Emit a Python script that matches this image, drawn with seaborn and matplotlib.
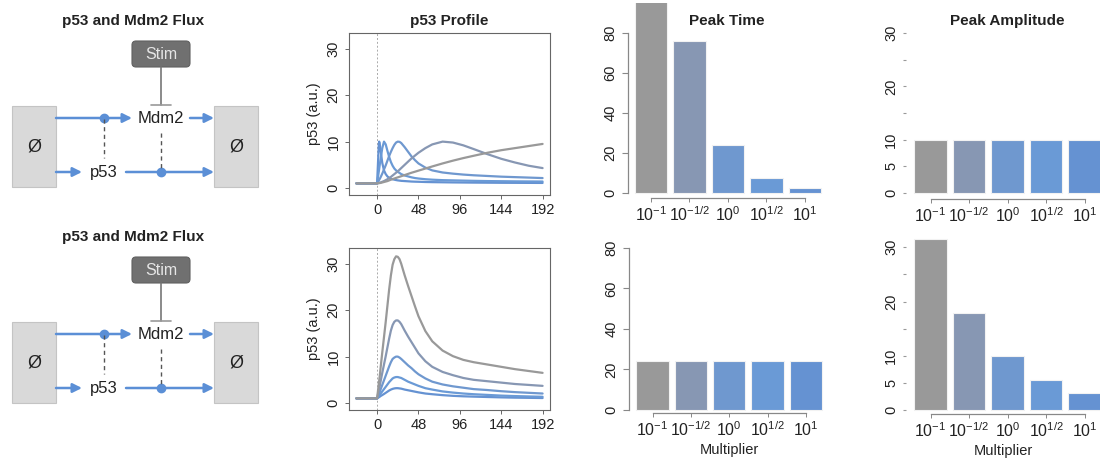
import numpy as np
import pandas as pd
import matplotlib
matplotlib.use("Agg")
import matplotlib.pyplot as plt
import seaborn as sns
from matplotlib.patches import FancyBboxPatch, Rectangle, FancyArrowPatch

sns.set_style("ticks")
plt.rcParams['font.family'] = ['Liberation Sans', 'DejaVu Sans']
plt.rcParams['mathtext.fontset'] = 'custom'
plt.rcParams['mathtext.rm'] = 'Liberation Sans'

# ---------------- data ----------------
multipliers = ["0.1", "0.316", "1", "3.16", "10"]
mult_labels = [r"$\mathregular{10^{-1}}$", r"$\mathregular{10^{-1/2}}$", r"$\mathregular{10^{0}}$",
               r"$\mathregular{10^{1/2}}$", r"$\mathregular{10^{1}}$"]
colors = ["#999999", "#8797b3", "#6f98cf", "#6a9ad6", "#6592d2"]

time_h = [-24, 0, 1, 2, 2.4, 3, 4, 6, 8, 10, 12, 14, 16, 18, 20, 22, 24, 26, 28, 32, 36, 40, 44,
          48, 56, 64, 76, 88, 100, 112, 128, 144, 160, 176, 192]

# top row: Mdm2 flux scaled -> peak time changes, amplitude constant
top_m1 = [1, 1, 1.02, 1.05, 1.06, 1.08, 1.1, 1.2, 1.3, 1.4, 1.5, 1.65, 1.8, 1.92, 2.05, 2.18, 2.3,
          2.42, 2.55, 2.8, 3.05, 3.3, 3.52, 3.75, 4.2, 4.65, 5.3, 5.9, 6.45, 6.95, 7.6, 8.15, 8.6,
          9.05, 9.5]
top_m2 = [1, 1, 1.05, 1.1, 1.12, 1.15, 1.2, 1.35, 1.5, 1.7, 1.9, 2.15, 2.4, 2.7, 3.0, 3.3, 3.6,
          3.95, 4.3, 5.0, 5.7, 6.4, 7.0, 7.6, 8.6, 9.4, 10.0, 9.8, 9.2, 8.4, 7.3, 6.3, 5.5, 4.8, 4.3]
top_m3 = [1, 1, 1.3, 1.6, 1.75, 1.95, 2.3, 3.1, 4.0, 4.9, 5.9, 6.9, 7.8, 8.6, 9.3, 9.8, 10.0,
          9.95, 9.7, 8.8, 7.8, 6.8, 6.0, 5.3, 4.4, 3.8, 3.35, 3.1, 2.9, 2.75, 2.6, 2.45, 2.35,
          2.25, 2.15]
top_m4 = [1, 1, 2.3, 3.6, 4.1, 4.9, 6.2, 8.6, 10.0, 9.4, 8.0, 6.7, 5.6, 4.8, 4.2, 3.8, 3.5,
          3.25, 3.0, 2.7, 2.5, 2.3, 2.15, 2.05, 1.9, 1.8, 1.7, 1.65, 1.6, 1.55, 1.5, 1.47, 1.44,
          1.42, 1.4]
top_m5 = [1, 1, 5.2, 9.4, 10.0, 9.6, 8.2, 5.4, 3.8, 3.0, 2.5, 2.2, 2.0, 1.9, 1.8, 1.72, 1.65,
          1.6, 1.55, 1.5, 1.45, 1.4, 1.37, 1.35, 1.3, 1.27, 1.24, 1.21, 1.19, 1.17, 1.15, 1.13,
          1.12, 1.11, 1.1]

# bottom row: peak time constant, amplitude changes
bot_m1 = [1, 1, 2.6, 4.2, 4.8, 5.7, 7.5, 10.9, 14.2, 17.5, 21.0, 24.5, 27.5, 29.8, 31.0, 31.6,
          31.5, 31.0, 30.0, 27.5, 25.2, 23.0, 20.8, 18.7, 15.5, 13.3, 11.3, 10.1, 9.3, 8.8, 8.3,
          7.8, 7.3, 6.9, 6.5]
bot_m2 = [1, 1, 1.9, 2.75, 3.1, 3.6, 4.6, 6.5, 8.3, 10.1, 12.0, 13.9, 15.6, 16.8, 17.5, 17.8,
          17.8, 17.5, 17.0, 15.6, 14.3, 13.1, 11.9, 10.7, 9.0, 7.8, 6.7, 6.0, 5.4, 5.0, 4.7,
          4.4, 4.1, 3.9, 3.7]
bot_m3 = [1, 1, 1.5, 1.95, 2.1, 2.4, 2.9, 3.9, 4.9, 5.9, 6.9, 7.9, 8.8, 9.5, 9.8, 10.0, 10.0,
          9.8, 9.5, 8.8, 8.1, 7.5, 6.8, 6.2, 5.3, 4.6, 4.0, 3.6, 3.3, 3.0, 2.8, 2.55, 2.35, 2.2,
          2.05]
bot_m4 = [1, 1, 1.25, 1.5, 1.6, 1.7, 2.0, 2.5, 3.0, 3.5, 4.0, 4.5, 4.9, 5.3, 5.5, 5.6, 5.6,
          5.5, 5.4, 5.0, 4.6, 4.3, 4.0, 3.7, 3.2, 2.9, 2.5, 2.25, 2.05, 1.9, 1.75, 1.6, 1.5,
          1.42, 1.35]
bot_m5 = [1, 1, 1.1, 1.24, 1.28, 1.35, 1.5, 1.72, 1.95, 2.2, 2.45, 2.7, 2.9, 3.05, 3.15, 3.2,
          3.2, 3.15, 3.1, 2.9, 2.75, 2.6, 2.45, 2.3, 2.05, 1.9, 1.7, 1.55, 1.45, 1.38, 1.3, 1.22,
          1.16, 1.12, 1.08]

peak_time_top = [240, 76, 24, 7.6, 2.4]
peak_time_bot = [24, 24, 24, 24, 24]
peak_amp_top = [10, 10, 10, 10, 10]
peak_amp_bot = [31.6, 17.8, 10, 5.6, 3.2]

# ---------------- figure ----------------
W, H = 1100, 458
fig = plt.figure(figsize=(W / 100, H / 100), dpi=100)


def px_axes(l, t, r, b, **kw):
    return fig.add_axes([l / W, 1 - b / H, (r - l) / W, (b - t) / H], **kw)


# diagram overlay axes in pixel coordinates
dax = px_axes(0, 0, W, H)
dax.set_xlim(0, W)
dax.set_ylim(H, 0)
dax.axis('off')
dax.set_zorder(-1)

BLUE = "#5b8fd6"


def arrow(x0, y0, x1, y1):
    a = FancyArrowPatch((x0, y0), (x1, y1), arrowstyle='-|>,head_length=0.6,head_width=0.3',
                        mutation_scale=9, color=BLUE, lw=1.8, shrinkA=0, shrinkB=0)
    dax.add_patch(a)


def draw_diagram(dy):
    dax.text(133, 21 + dy, "p53 and Mdm2 Flux", ha='center', va='center', fontsize=11,
             fontweight='bold', color='#222222')
    dax.add_patch(FancyBboxPatch((132, 41 + dy), 58, 26, boxstyle='round,pad=0,rounding_size=4',
                                 fc='#707070', ec='#606060', lw=0.8))
    dax.text(161, 54.5 + dy, "Stim", ha='center', va='center', fontsize=11.5, color='#e6e6e6')
    dax.plot([161, 161], [67 + dy, 105 + dy], color='#777777', lw=1.2)
    dax.plot([151, 171], [105 + dy, 105 + dy], color='#999999', lw=1.2)
    for x0 in (12, 214):
        dax.add_patch(Rectangle((x0, 106 + dy), 44, 81, fc='#d9d9d9', ec='#c4c4c4', lw=0.8))
        dax.text(x0 + 22, 147 + dy, "Ø", ha='center', va='center', fontsize=13, color='#222222')
    # top flux (Mdm2)
    arrow(56, 118 + dy, 132, 118 + dy)
    dax.plot([104], [118 + dy], 'o', color=BLUE, ms=6)
    dax.text(161, 118.5 + dy, "Mdm2", ha='center', va='center', fontsize=12, color='#222222')
    arrow(190, 118 + dy, 214, 118 + dy)
    # bottom flux (p53)
    arrow(56, 172 + dy, 82, 172 + dy)
    dax.text(104, 173 + dy, "p53", ha='center', va='center', fontsize=12, color='#222222')
    arrow(126, 172 + dy, 214, 172 + dy)
    dax.plot([161], [172 + dy], 'o', color=BLUE, ms=6)
    dax.plot([104, 104], [119 + dy, 158 + dy], color='#555555', lw=1, dashes=(3, 2.5))
    dax.plot([161, 161], [133 + dy, 171 + dy], color='#555555', lw=1, dashes=(3, 2.5))


draw_diagram(0)
draw_diagram(216)

# ---------------- line plots ----------------
series_top = [top_m1, top_m2, top_m3, top_m4, top_m5]
series_bot = [bot_m1, bot_m2, bot_m3, bot_m4, bot_m5]


def long_df(series):
    rows = []
    for m, vals in zip(multipliers, series):
        for t, v in zip(time_h, vals):
            rows.append((t, v, m))
    return pd.DataFrame(rows, columns=['time', 'p53', 'mult'])


def style_common(ax):
    for lab in ax.get_yticklabels():
        lab.set_rotation(90)
        lab.set_va('center')


for (top, bot), series, title in [((33, 195), series_top, "p53 Profile"),
                                   ((248, 410), series_bot, None)]:
    ax = px_axes(349, top, 550, bot)
    df = long_df(series)
    sns.lineplot(data=df, x='time', y='p53', hue='mult', hue_order=multipliers[::-1],
                 palette=dict(zip(multipliers, colors)), legend=False, lw=1.6,
                 estimator=None, sort=False, ax=ax)
    ax.axvline(0, color='#aaaaaa', lw=0.7, dashes=(2, 2), zorder=0)
    ax.set_xlim(-32.6, 200.6)
    ax.set_ylim(-1.5, 33.4)
    ax.set_xticks([0, 48, 96, 144, 192])
    ax.set_yticks([0, 10, 20, 30])
    ax.set_xlabel("")
    ax.set_ylabel("p53 (a.u.)", fontsize=10.5, color='#222222', labelpad=4)
    for s in ax.spines.values():
        s.set_visible(True)
        s.set_color('#666666')
        s.set_linewidth(0.8)
    ax.tick_params(length=3, width=0.7, color='#666666', labelsize=10.5, labelcolor='#222222', pad=3)
    style_common(ax)
    if title:
        fig.text(449.5 / W, 1 - 21 / H, title, ha='center', va='center', fontsize=11,
                 fontweight='bold', color='#222222')


# ---------------- bar plots ----------------
def bar_panel(l, t, r, b, values, ylim, xlim, yticks, yticklabels, spine_left, spine_top_val):
    ax = px_axes(l, t, r, b)
    sns.barplot(x=mult_labels, y=values, hue=mult_labels, palette=colors, legend=False,
                width=0.845, saturation=1, edgecolor='#f2f2f2', linewidth=0.8, ax=ax)
    ax.set_xlim(*xlim)
    ax.set_ylim(*ylim)
    ax.set_yticks(yticks)
    ax.set_yticklabels(yticklabels)
    ax.set_xticks(range(5))
    ax.set_xticklabels(mult_labels)
    sns.despine(ax=ax, top=True, right=True)
    ax.spines['bottom'].set_bounds(0, 4)
    ax.spines['bottom'].set_color('#888888')
    ax.spines['bottom'].set_linewidth(0.9)
    if spine_left:
        ax.spines['left'].set_bounds(0, spine_top_val)
        ax.spines['left'].set_color('#888888')
        ax.spines['left'].set_linewidth(0.9)
        ax.tick_params(axis='y', length=4, width=0.8, color='#888888')
    else:
        ax.spines['left'].set_visible(False)
        ax.tick_params(axis='y', length=2, width=0.8, color='#999999')
    ax.tick_params(axis='x', length=3, width=0.7, color='#888888', pad=2, labelsize=11.5)
    ax.tick_params(axis='y', labelsize=10.5)
    ax.tick_params(labelcolor='#222222')
    style_common(ax)
    for bar in ax.patches:
        bar.set_clip_on(True)
    return ax


# Peak time, top
bar_panel(628, 3, 830, 198, peak_time_top, (-2.5, 95), (-0.597, 4.65),
          [0, 20, 40, 60, 80], ['0', '20', '40', '60', '80'], True, 80)
fig.text(727 / W, 1 - 21 / H, "Peak Time", ha='center', va='center', fontsize=11,
         fontweight='bold', color='#222222')
# Peak time, bottom
axb = bar_panel(629, 232, 830, 413, peak_time_bot, (-1.5, 87.9), (-0.615, 4.63),
                [0, 20, 40, 60, 80], ['0', '20', '40', '60', '80'], True, 80)
axb.set_xlabel("Multiplier", fontsize=10.5, color='#222222', labelpad=3)

# Peak amplitude, top
bar_panel(906, 3, W, 199, peak_amp_top, (-1.1, 35.6), (-0.636, 4.40),
          [0, 5, 10, 15, 20, 25, 30], ['0', '5', '10', '', '20', '', '30'], False, 30)
fig.text(1007 / W, 1 - 21 / H, "Peak Amplitude", ha='center', va='center', fontsize=11,
         fontweight='bold', color='#222222')
# Peak amplitude, bottom
axa = bar_panel(906, 232, W, 414, peak_amp_bot, (-0.7, 32.8), (-0.636, 4.40),
                [0, 5, 10, 15, 20, 25, 30], ['0', '5', '10', '', '20', '', '30'], False, 30)
axa.set_xlabel("Multiplier", fontsize=10.5, color='#222222', labelpad=3)

fig.savefig("out.png", dpi=100)
